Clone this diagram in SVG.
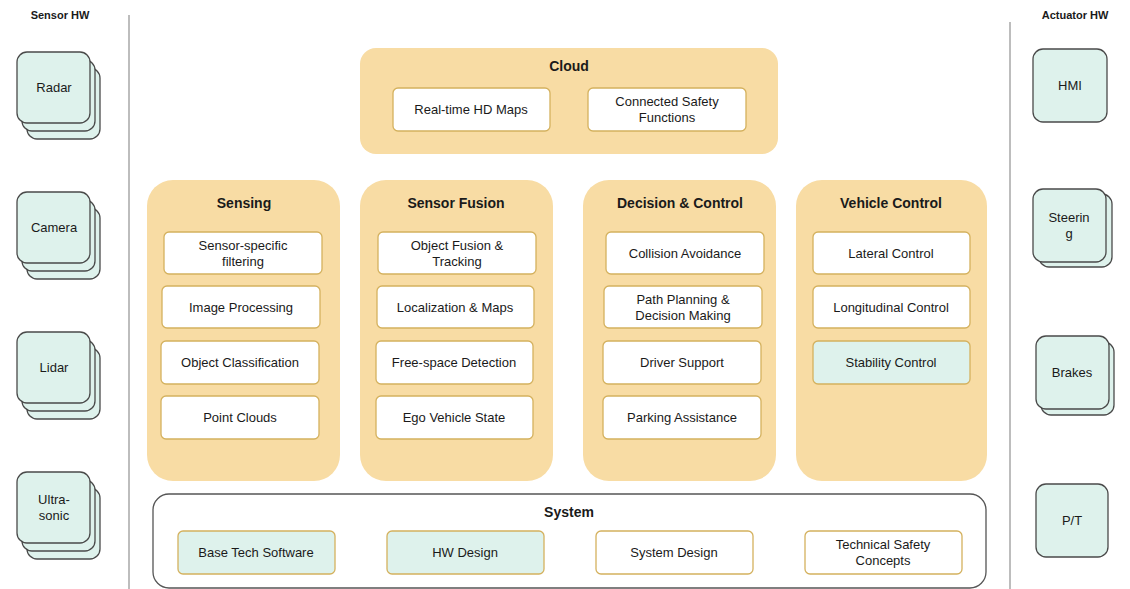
<svg xmlns="http://www.w3.org/2000/svg" width="1130" height="589" viewBox="0 0 1130 589">
<style>
text{font-family:"Liberation Sans",Arial,sans-serif;fill:#1a1a1a;text-anchor:middle}
.t{font-size:13px}
.h{font-size:14px;font-weight:bold}
.hw{font-size:11px;font-weight:bold}
.cont{fill:#f8dca4;stroke:none}
.sub{fill:#ffffff;stroke:#d4b15e;stroke-width:1.3}
.subg{fill:#def2ec;stroke:#d4b15e;stroke-width:1.3}
.dev{fill:#def2ec;stroke:#4a4a4a;stroke-width:1.3}
.sys{fill:#ffffff;stroke:#555555;stroke-width:1.3}
.sep{stroke:#bdbdbd;stroke-width:2}
</style>
<g id="separators">
<line class="sep" x1="129" y1="15" x2="129" y2="589"/>
<line class="sep" x1="1010" y1="22" x2="1010" y2="589"/>
</g>
<g id="connectors"/>
<g id="sensor-hw">
<text class="hw" x="60" y="19">Sensor HW</text>
<g id="radar">
<rect class="dev" x="27" y="68" width="73" height="71" rx="10"/>
<rect class="dev" x="22" y="60" width="73" height="71" rx="10"/>
<rect class="dev" x="17" y="52" width="73" height="71" rx="10"/>
<text class="t" x="54" y="92">Radar</text>
</g>
<g id="camera">
<rect class="dev" x="27" y="208" width="73" height="71" rx="10"/>
<rect class="dev" x="22" y="200" width="73" height="71" rx="10"/>
<rect class="dev" x="17" y="192" width="73" height="71" rx="10"/>
<text class="t" x="54" y="232">Camera</text>
</g>
<g id="lidar">
<rect class="dev" x="27" y="348" width="73" height="71" rx="10"/>
<rect class="dev" x="22" y="340" width="73" height="71" rx="10"/>
<rect class="dev" x="17" y="332" width="73" height="71" rx="10"/>
<text class="t" x="54" y="372">Lidar</text>
</g>
<g id="ultrasonic">
<rect class="dev" x="27" y="488" width="73" height="71" rx="10"/>
<rect class="dev" x="22" y="480" width="73" height="71" rx="10"/>
<rect class="dev" x="17" y="472" width="73" height="71" rx="10"/>
<text class="t" x="54" y="504">Ultra-</text>
<text class="t" x="54" y="520">sonic</text>
</g>
</g>
<g id="actuator-hw">
<text class="hw" x="1075" y="19">Actuator HW</text>
<g id="hmi">
<rect class="dev" x="1033" y="49" width="74" height="73" rx="10"/>
<text class="t" x="1070" y="90">HMI</text>
</g>
<g id="steering">
<rect class="dev" x="1039" y="194" width="73" height="73" rx="10"/>
<rect class="dev" x="1033" y="189" width="73" height="73" rx="10"/>
<text class="t" x="1069" y="222">Steerin</text>
<text class="t" x="1069" y="238">g</text>
</g>
<g id="brakes">
<rect class="dev" x="1041" y="342" width="73" height="73" rx="10"/>
<rect class="dev" x="1036" y="336" width="73" height="73" rx="10"/>
<text class="t" x="1072" y="377">Brakes</text>
</g>
<g id="pt">
<rect class="dev" x="1036" y="484" width="72" height="73" rx="10"/>
<text class="t" x="1072" y="525">P/T</text>
</g>
</g>
<g id="cloud">
<rect class="cont" x="360" y="48" width="418" height="106" rx="16"/>
<text class="h" x="569" y="71">Cloud</text>
<rect class="sub" x="393" y="88" width="157" height="43" rx="5"/>
<text class="t" x="471" y="114">Real-time HD Maps</text>
<rect class="sub" x="588" y="88" width="158" height="43" rx="5"/>
<text class="t" x="667" y="106">Connected Safety</text>
<text class="t" x="667" y="122">Functions</text>
</g>
<g id="sensing">
<rect class="cont" x="147" y="180" width="193" height="301" rx="26"/>
<text class="h" x="244" y="208">Sensing</text>
<rect class="sub" x="164" y="232" width="158" height="42" rx="5"/>
<text class="t" x="243" y="250">Sensor-specific</text>
<text class="t" x="243" y="266">filtering</text>
<rect class="sub" x="162" y="286" width="158" height="42" rx="5"/>
<text class="t" x="241" y="312">Image Processing</text>
<rect class="sub" x="161" y="341" width="158" height="43" rx="5"/>
<text class="t" x="240" y="367">Object Classification</text>
<rect class="sub" x="161" y="396" width="158" height="43" rx="5"/>
<text class="t" x="240" y="422">Point Clouds</text>
</g>
<g id="sensor-fusion">
<rect class="cont" x="360" y="180" width="193" height="301" rx="26"/>
<text class="h" x="456" y="208">Sensor Fusion</text>
<rect class="sub" x="378" y="232" width="158" height="42" rx="5"/>
<text class="t" x="457" y="250">Object Fusion &amp;</text>
<text class="t" x="457" y="266">Tracking</text>
<rect class="sub" x="377" y="286" width="157" height="42" rx="5"/>
<text class="t" x="455" y="312">Localization &amp; Maps</text>
<rect class="sub" x="376" y="341" width="157" height="43" rx="5"/>
<text class="t" x="454" y="367">Free-space Detection</text>
<rect class="sub" x="376" y="396" width="157" height="43" rx="5"/>
<text class="t" x="454" y="422">Ego Vehicle State</text>
</g>
<g id="decision-control">
<rect class="cont" x="583" y="180" width="193" height="301" rx="26"/>
<text class="h" x="680" y="208">Decision &amp; Control</text>
<rect class="sub" x="606" y="232" width="158" height="42" rx="5"/>
<text class="t" x="685" y="258">Collision Avoidance</text>
<rect class="sub" x="604" y="286" width="158" height="42" rx="5"/>
<text class="t" x="683" y="304">Path Planning  &amp;</text>
<text class="t" x="683" y="320">Decision Making</text>
<rect class="sub" x="603" y="341" width="158" height="43" rx="5"/>
<text class="t" x="682" y="367">Driver Support</text>
<rect class="sub" x="603" y="396" width="158" height="43" rx="5"/>
<text class="t" x="682" y="422">Parking Assistance</text>
</g>
<g id="vehicle-control">
<rect class="cont" x="796" y="180" width="191" height="301" rx="26"/>
<text class="h" x="891" y="208">Vehicle Control</text>
<rect class="sub" x="813" y="232" width="157" height="42" rx="5"/>
<text class="t" x="891" y="258">Lateral Control</text>
<rect class="sub" x="813" y="286" width="157" height="42" rx="5"/>
<text class="t" x="891" y="312">Longitudinal  Control</text>
<rect class="subg" x="813" y="341" width="157" height="43" rx="5"/>
<text class="t" x="891" y="367">Stability  Control</text>
</g>
<g id="system">
<rect class="sys" x="153" y="494" width="833" height="94" rx="16"/>
<text class="h" x="569" y="517">System</text>
<rect class="subg" x="178" y="531" width="157" height="43" rx="5"/>
<text class="t" x="256" y="557">Base Tech Software</text>
<rect class="subg" x="387" y="531" width="157" height="43" rx="5"/>
<text class="t" x="465" y="557">HW Design</text>
<rect class="sub" x="596" y="531" width="157" height="43" rx="5"/>
<text class="t" x="674" y="557">System Design</text>
<rect class="sub" x="805" y="531" width="157" height="43" rx="5"/>
<text class="t" x="883" y="549">Technical Safety</text>
<text class="t" x="883" y="565">Concepts</text>
</g>
</svg>
